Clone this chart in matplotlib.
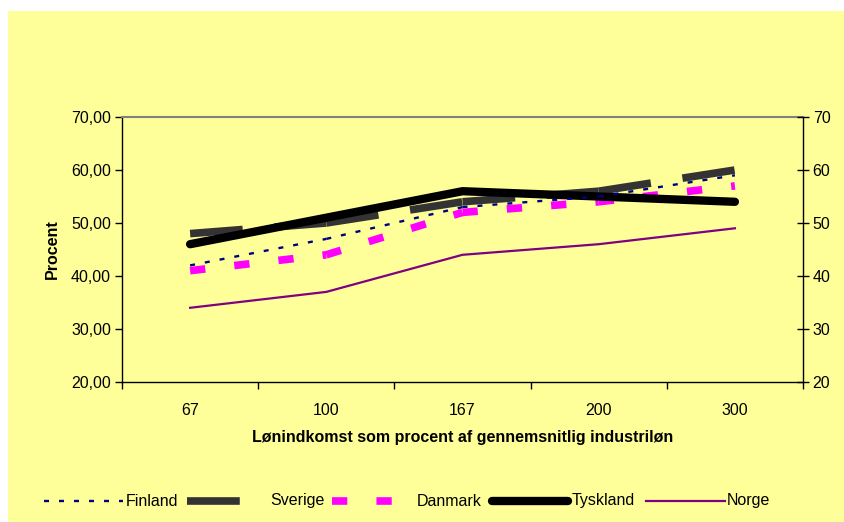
import matplotlib
matplotlib.use("Agg")
import matplotlib.pyplot as plt
from matplotlib.patches import Rectangle
from matplotlib.lines import Line2D
import numpy as np

plt.rcParams['font.family'] = ['Liberation Sans', 'DejaVu Sans']
plt.rcParams['lines.scale_dashes'] = False

categories = ['67', '100', '167', '200', '300']
finland = [42, 47, 53, 55, 59]
sverige = [48, 50, 54, 56, 60]
danmark = [41, 44, 52, 54, 57]
tyskland = [46, 51, 56, 55, 54]
norge = [34, 37, 44, 46, 49]

FS = 11.5
W, H = 844, 522
fig = plt.figure(figsize=(W / 100, H / 100), dpi=100)
fig.patch.set_facecolor('white')
fig.add_artist(Rectangle((8 / W, 0), 1 - 8 / W, 1 - 11 / H, transform=fig.transFigure,
                         facecolor='#FFFF99', edgecolor='none', zorder=0))

ax = fig.add_axes([122 / W, 1 - 382 / H, (803 - 122) / W, (382 - 117) / H])
ax.set_facecolor('#FFFF99')
x = np.arange(len(categories))

styles = {
    'Finland': dict(color='#000080', lw=1.7, dashes=(3.6, 7.2), dash_capstyle='butt'),
    'Sverige': dict(color='#333333', lw=5.5, dashes=(38, 23), dash_capstyle='butt',
                    solid_capstyle='butt'),
    'Danmark': dict(color='#FF00FF', lw=5.5, dashes=(11, 21), dash_capstyle='butt'),
    'Tyskland': dict(color='black', lw=6, solid_capstyle='round'),
    'Norge': dict(color='#800080', lw=1.6),
}


def seg_plot(vals, z, **kw):
    # Excel restarts the dash pattern on every segment
    for i in range(len(vals) - 1):
        ax.plot(x[i:i + 2], vals[i:i + 2], zorder=z, **kw)


seg_plot(finland, 6, **styles['Finland'])
seg_plot(sverige, 3, **styles['Sverige'])
seg_plot(danmark, 4, **styles['Danmark'])
ax.plot(x, tyskland, zorder=5, **styles['Tyskland'])
ax.plot(x, norge, zorder=5, **styles['Norge'])

ax.set_xlim(-0.5, len(categories) - 0.5)
ax.set_ylim(20, 70)
ax.set_yticks(np.arange(20, 71, 10))
ax.set_yticklabels(['%d,00' % v for v in range(20, 71, 10)], fontsize=FS)
ax.set_xticks(x)
ax.set_xticklabels(categories, fontsize=FS)
ax.tick_params(axis='x', which='major', length=0, pad=15)
ax.set_xticks(np.arange(-0.5, len(categories)), minor=True)
ax.tick_params(axis='x', which='minor', length=5, direction='out', width=1)
ax.tick_params(axis='y', length=5, direction='out', width=1, pad=3)

for s in ['left', 'bottom', 'right']:
    ax.spines[s].set_color('black')
    ax.spines[s].set_linewidth(1)
ax.spines['top'].set_color('#808080')
ax.spines['top'].set_linewidth(1.5)

ax2 = ax.twinx()
ax2.set_ylim(20, 70)
ax2.set_yticks(np.arange(20, 71, 10))
ax2.set_yticklabels([str(v) for v in range(20, 71, 10)], fontsize=FS)
ax2.tick_params(axis='y', length=8, direction='inout', width=1, pad=3)
for s in ax2.spines.values():
    s.set_visible(False)

ax.set_xlabel('Lønindkomst som procent af gennemsnitlig industriløn', fontsize=FS,
              fontweight='bold', labelpad=9)
ax.set_ylabel('Procent', fontsize=FS, fontweight='bold', labelpad=8)

# legend drawn by hand to match Excel's uneven spacing (pixel positions)
legend_pos = {'Finland': (44, 123), 'Sverige': (187, 240), 'Danmark': (332, 394),
              'Tyskland': (492, 568), 'Norge': (646, 725)}
text_x = {'Finland': 126, 'Sverige': 270, 'Danmark': 417, 'Tyskland': 572, 'Norge': 727}
ly = 1 - 501 / H
for name, (x0, x1) in legend_pos.items():
    fig.add_artist(Line2D([x0 / W, x1 / W], [ly, ly], transform=fig.transFigure,
                          **styles[name]))
    fig.text(text_x[name] / W, ly, name, fontsize=FS, va='center', ha='left')

fig.savefig('out.png', dpi=100, facecolor=fig.get_facecolor())
